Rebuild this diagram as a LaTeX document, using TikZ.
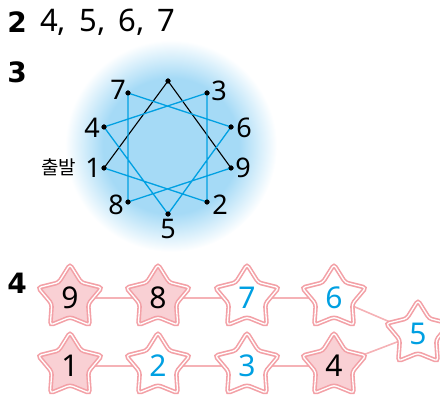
\documentclass[tikz,border=0pt]{standalone}
\usepackage{fontspec}
\setmainfont{Noto Sans}
\newfontfamily\kofont{Noto Sans CJK KR}
\newfontfamily\headfont{DejaVu Sans}
\usetikzlibrary{shapes.geometric,backgrounds}
\definecolor{lineblue}{RGB}{0,160,226}
\definecolor{glowc}{RGB}{165,218,246}
\definecolor{starpink}{RGB}{243,160,166}
\definecolor{starfill}{RGB}{249,208,212}
\definecolor{linkpink}{RGB}{245,178,182}
\pgfdeclareradialshading{glow}{\pgfpoint{0bp}{0bp}}{color(0bp)=(glowc); color(16bp)=(glowc); color(25bp)=(white); color(50bp)=(white)}
\tikzset{
  head/.style={font=\headfont\bfseries\fontsize{28}{28}\selectfont, inner sep=0pt},
  lab/.style={font=\fontsize{27}{27}\selectfont, inner sep=0pt},
  dot/.style={circle, fill=black, inner sep=0pt, minimum size=5pt},
  bline/.style={lineblue, line width=1.3pt},
  kline/.style={black, line width=1.1pt},
  starbox/.style={star, star points=5, star point ratio=1.75, minimum size=67pt, inner sep=0pt,
    draw=starpink, line width=1.6pt, double=white, double distance=1.3pt, rounded corners=3pt,
    font=\fontsize{30}{30}\selectfont},
  pinkstar/.style={starbox, fill=starfill, text=black},
  whitestar/.style={starbox, fill=white, text=lineblue},
  link/.style={linkpink, line width=1.6pt}
}
\begin{document}
\begin{tikzpicture}[x=1pt, y=-1pt]
\useasboundingbox (0,0) rectangle (440,396);
% problem 3 glow
\shade[shading=glow] (171,146) circle (106);
% problem 2
\node[head] (h2) at (17,22) {2};
\node[lab, font=\fontsize{31}{31}\selectfont, anchor=west] (ans2) at (40,22) {4,\, 5,\, 6,\, 7};
% problem 3
\node[head] (h3) at (17,72) {3};
\node[dot] (pt) at (168,81) {};
\node[dot] (p7) at (128,93) {};
\node[dot] (p3) at (207,93) {};
\node[dot] (p4) at (104,127) {};
\node[dot] (p6) at (231,127) {};
\node[dot] (p1) at (104,168) {};
\node[dot] (p9) at (231,168) {};
\node[dot] (p8) at (128,202) {};
\node[dot] (p2) at (207,202) {};
\node[dot] (p5) at (168,214) {};
\draw[kline] (p1.center) -- (pt.center) -- (p9.center);
\draw[bline] (p9.center) -- (p8.center) -- (p7.center) -- (p6.center) -- (p5.center) -- (p4.center)
  -- (p3.center) -- (p2.center) -- (p1.center);
\foreach \n in {pt,p1,p2,p3,p4,p5,p6,p7,p8,p9} \node[dot] at (\n) {};
\node[lab] (l7) at (118,90) {7};
\node[lab] (l3) at (219,91) {3};
\node[lab] (l4) at (92,128) {4};
\node[lab] (l6) at (244,128) {6};
\node[lab] (l1) at (93,168) {1};
\node[inner sep=0pt, font=\kofont\fontsize{19}{19}\selectfont] (start) at (59,167) {출발};
\node[lab] (l9) at (243,168) {9};
\node[lab] (l8) at (116,205) {8};
\node[lab] (l2) at (220,205) {2};
\node[lab] (l5) at (168,229) {5};
% problem 4
\node[head] (h4) at (17,283) {4};
\node[pinkstar] (s9) at (70,298) {9};
\node[pinkstar] (s8) at (158,298) {8};
\node[whitestar] (s7) at (247,298) {7};
\node[whitestar] (s6) at (334,298) {6};
\node[whitestar] (s5) at (418,334) {5};
\node[pinkstar] (s1) at (70,366) {1};
\node[whitestar] (s2) at (158,366) {2};
\node[whitestar] (s3) at (247,366) {3};
\node[pinkstar] (s4) at (334,366) {4};
\begin{scope}[on background layer]
\draw[link] (s9.center) -- (s8.center) -- (s7.center) -- (s6.center) -- (s5.center) -- (s4.center)
  -- (s3.center) -- (s2.center) -- (s1.center);
\end{scope}
\end{tikzpicture}
\end{document}
